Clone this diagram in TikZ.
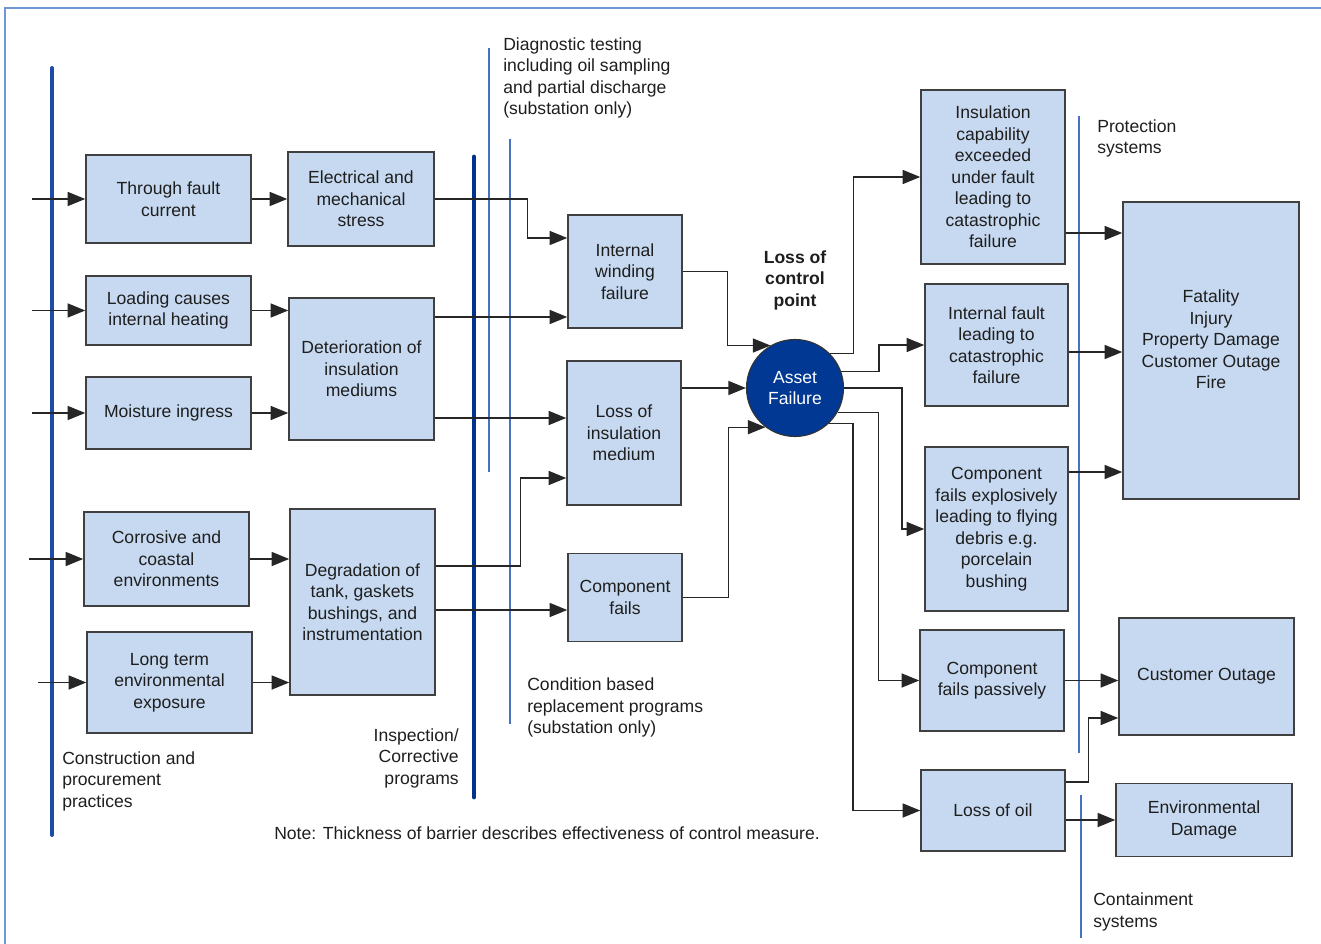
\documentclass[tikz,border=0pt]{standalone}
\usepackage{fontspec}
\setmainfont{Liberation Sans}
\usetikzlibrary{arrows.meta}
\definecolor{boxfill}{RGB}{198,217,240}
\definecolor{boxline}{RGB}{64,64,64}
\definecolor{afblue}{RGB}{0,56,147}
\definecolor{barouter}{RGB}{30,75,165}
\definecolor{barmid}{RGB}{0,51,141}
\definecolor{barthin}{RGB}{70,114,196}
\definecolor{framecol}{RGB}{110,150,210}
\definecolor{txt}{RGB}{30,30,30}
\begin{document}
\begin{tikzpicture}[x=0.025cm, y=-0.025cm, font=\fontsize{12.5}{15.3}\selectfont,
    box/.style 2 args={draw=boxline, fill=boxfill, line width=1.1pt, align=center, inner sep=1pt, text=txt,
      minimum width=#1*0.025cm, minimum height=#2*0.025cm},
    arr/.style={-{Triangle[length=12.5pt,width=10pt]}, line width=0.9pt, draw=black!85},
    lbl/.style={align=left, inner sep=0pt, text=txt},
    thickbar/.style={line width=#1, line cap=round}]
    \useasboundingbox (0,0) rectangle (1321,944);
    %%Frame
    \draw[framecol, line width=1pt] (1321,8) -- (5,8) -- (5,944);
    %%Barriers
    \draw[thickbar=2.8pt, barouter] (52,68) -- (52,835);
    \draw[thickbar=3.5pt, barmid] (474,157) -- (474,797);
    \draw[barthin, line width=1pt] (489,48) -- (489,472);
    \draw[barthin, line width=1pt] (510,139) -- (510,724);
    \draw[barthin, line width=1pt] (1079,116) -- (1079,753);
    \draw[barthin, line width=1pt] (1081,795) -- (1081,938);
    %%Causes
    \node[box={165}{88}] (through) at (168.5,199) {Through fault\\current};
    \node[box={165}{69}] (loading) at (168.5,310.5) {Loading causes\\internal heating};
    \node[box={165}{72}] (moisture) at (168.5,413) {Moisture ingress};
    \node[box={165}{94}] (corrosive) at (166.5,559) {Corrosive and\\coastal\\environments};
    \node[box={165}{101}] (longterm) at (169.5,682.5) {Long term\\environmental\\exposure};
    \node[box={146}{94}] (elec) at (361,199) {Electrical and\\mechanical\\stress};
    \node[box={145}{142}] (deter) at (361.5,369) {Deterioration of\\insulation\\mediums};
    \node[box={145}{186}] (degr) at (362.5,602) {Degradation of\\tank, gaskets\\bushings, and\\instrumentation};
    %%Failure modes
    \node[box={114}{113}] (iwf) at (625,271.5) {Internal\\winding\\failure};
    \node[box={114}{144}] (loim) at (624,433) {Loss of\\insulation\\medium};
    \node[box={114}{88}] (compf) at (625,597.5) {Component\\fails};
    \node[circle, draw=black!80, line width=0.8pt, fill=afblue, text=white, align=center, inner sep=0pt,
      minimum size=97*0.025cm] (af) at (795,388) {Asset\\Failure};
    \node[align=center, inner sep=0pt, text=txt, font=\fontsize{12.5}{15.3}\selectfont\bfseries] (lcp) at (795,280)
      {Loss of\\control\\point};
    %%Consequences
    \node[box={144}{174}] (insul) at (993,177) {Insulation\\capability\\exceeded\\under fault\\leading to\\catastrophic\\failure};
    \node[box={143}{122}] (intf) at (996.5,345) {Internal fault\\leading to\\catastrophic\\failure};
    \node[box={143}{164}] (expl) at (996.5,529) {Component\\fails explosively\\leading to flying\\debris e.g.\\porcelain\\bushing};
    \node[box={144}{101}] (pass) at (992,680.5) {Component\\fails passively};
    \node[box={144}{81}] (oil) at (993,810.5) {Loss of oil};
    \node[box={176}{297}, text depth=16pt] (fatal) at (1211,350.5) {Fatality\\Injury\\Property Damage\\Customer Outage\\Fire};
    \node[box={175}{117}] (cust) at (1206.5,676.5) {Customer Outage};
    \node[box={176}{73}] (env) at (1204,820) {Environmental\\Damage};
    %%Barrier labels
    \node[lbl, anchor=west] (diag) at (503,78) {Diagnostic testing\\including oil sampling\\and partial discharge\\(substation only)};
    \node[lbl, anchor=west] (prot) at (1097,138.5) {Protection\\systems};
    \node[lbl, anchor=west] (cond) at (527,707.5) {Condition based\\replacement programs\\(substation only)};
    \node[lbl, anchor=east, align=right] (insp) at (459,758) {Inspection/\\Corrective\\programs};
    \node[lbl, anchor=west] (constr) at (62,781) {Construction and\\procurement\\practices};
    \node[lbl, anchor=west] (note) at (274,833) {Note: Thickness of barrier describes effectiveness of control measure.};
    \node[lbl, anchor=west] (cont) at (1093,912) {Containment\\systems};
    %%Inputs
    \foreach \n/\l in {through/53, loading/53, moisture/53, corrosive/54, longterm/48}
        \draw[arr] (\n.west) ++(-\l,0) -- (\n.west);
    \draw[arr] (through.east) -- (elec.west);
    \foreach \n in {loading, moisture}
        \draw[arr] (\n.east) -- (deter.west |- \n.east);
    \foreach \n in {corrosive, longterm}
        \draw[arr] (\n.east) -- (degr.west |- \n.east);
    %%Mechanisms to failure modes
    \draw[arr] (elec.east) -- ++(93,0) |- (iwf.west |- 0,238);
    \draw[arr] (deter.east |- 0,317) -- (iwf.west |- 0,317);
    \draw[arr] (deter.east |- 0,418) -- (loim.west |- 0,418);
    \draw[arr] (degr.east |- 0,566) -- ++(85,0) |- (loim.west |- 0,478);
    \draw[arr] (degr.east |- 0,610) -- (compf.west |- 0,610);
    %%Into asset failure
    \draw[arr] (iwf.east) -- ++(45,0) |- (af.120);
    \draw[arr] (loim.east |- af.west) -- (af.west);
    \draw[arr] (compf.east) -- ++(46,0) |- (af.-127);
    %%Out of asset failure
    \draw[arr] (af.45) -- ++(24,0) |- (insul.west);
    \draw[arr] (af.20) -- ++(38,0) |- (intf.west);
    \draw[arr] (af.east) -- ++(58,0) |- (expl.west);
    \draw[arr] (af.-30) -- ++(41,0) |- (pass.west);
    \draw[arr] (af.-46) -- ++(24,0) |- (oil.west);
    %%Consequences
    \draw[arr] (insul.east |- 0,233) -- (fatal.west |- 0,233);
    \draw[arr] (intf.east |- 0,352) -- (fatal.west |- 0,352);
    \draw[arr] (expl.east |- 0,472) -- (fatal.west |- 0,472);
    \draw[arr] (pass.east) -- (cust.west |- pass.east);
    \draw[arr] (oil.east |- 0,782) -- ++(23,0) |- (cust.west |- 0,718);
    \draw[arr] (oil.east |- 0,820) -- (env.west |- 0,820);
\end{tikzpicture}
\end{document}
